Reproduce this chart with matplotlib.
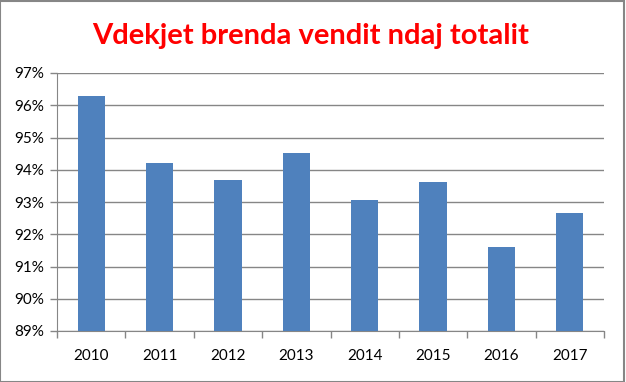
import matplotlib
matplotlib.use("Agg")
import matplotlib.pyplot as plt
from matplotlib.ticker import FixedLocator, NullFormatter
from matplotlib.patches import Rectangle

years = ["2010", "2011", "2012", "2013", "2014", "2015", "2016", "2017"]
values = [96.29, 94.2, 93.68, 94.51, 93.06, 93.62, 91.6, 92.66]
ytick_vals = [89, 90, 91, 92, 93, 94, 95, 96, 97]
ytick_labels = ["89%", "90%", "91%", "92%", "93%", "94%", "95%", "96%", "97%"]
title = "Vdekjet brenda vendit ndaj totalit"

plt.rcParams['font.family'] = ['Lato', 'DejaVu Sans']

fig = plt.figure(figsize=(6.26, 3.82), dpi=100)
fig.patch.set_facecolor("white")
ax = fig.add_axes([57/626, 1 - 331/382, (604-57)/626, (331-73)/382])

x = list(range(len(years)))
ax.bar(x, [v - 89 for v in values], bottom=89, width=0.4, color="#4F81BD", zorder=3)

ax.set_ylim(89, 97)
ax.set_xlim(-0.5, len(years) - 0.5)
ax.set_yticks(ytick_vals)
ax.set_yticklabels(ytick_labels, fontsize=11, color="black")
ax.yaxis.grid(True, color="#868686", linewidth=1, zorder=0)
ax.set_xticks(x)
ax.set_xticklabels(years, fontsize=11, color="black")
ax.tick_params(axis="x", which="major", length=0, pad=13)
ax.xaxis.set_minor_locator(FixedLocator([i - 0.5 for i in range(len(years) + 1)]))
ax.xaxis.set_minor_formatter(NullFormatter())
ax.tick_params(axis="x", which="minor", length=5, color="#868686", width=1)
ax.tick_params(axis="y", length=5, color="#868686", width=1, pad=4)

for s in ["top", "right"]:
    ax.spines[s].set_visible(False)
ax.spines["left"].set_color("#868686")
ax.spines["bottom"].set_color("#868686")

fig.text(311 / 626, 1 - 36 / 382, title, ha="center", va="center",
         fontsize=21, fontweight="bold", color="#FF0000")

fig.patches.append(Rectangle((0, 0), 623.5/626, 381/382, transform=fig.transFigure,
                             fill=False, edgecolor="#868686", linewidth=1.5))

fig.savefig("out.png", dpi=100)
